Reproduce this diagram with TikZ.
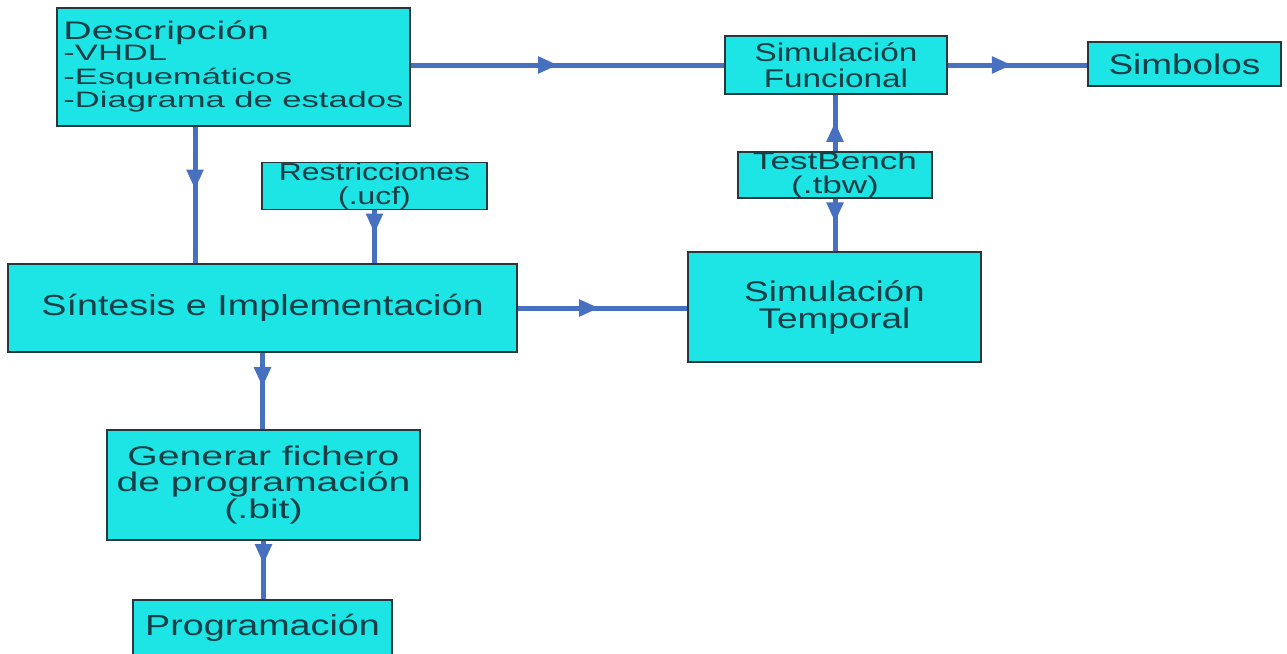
\documentclass[tikz,border=0pt]{standalone}
\usepackage{fontspec}
\setmainfont{Liberation Sans}[FakeStretch=1.3]
\newfontfamily\midfont{Liberation Sans}[FakeStretch=1.45]
\newfontfamily\listfont{Liberation Sans}[FakeStretch=1.55]
\usetikzlibrary{arrows.meta,decorations.markings}
\definecolor{boxfill}{RGB}{30,229,229}
\definecolor{boxline}{RGB}{40,55,60}
\definecolor{flow}{RGB}{72,112,192}
\definecolor{ink}{RGB}{22,62,70}
\tikzset{
  stage/.style={draw=boxline, line width=1.5pt, fill=boxfill, text=ink,
    inner sep=0pt, align=center, anchor=center},
  flowline/.style={draw=flow, line width=5pt},
  tipat/.style={postaction={decorate}, decoration={markings,
    mark=at position #1 with {\arrow[flow]{Triangle[length=20pt,width=16pt]}}}},
}
\newcommand{\fs}[2]{\fontsize{#1}{#2}\selectfont}
\begin{document}
\begin{tikzpicture}[x=1pt,y=-1pt]
\useasboundingbox[fill=white] (0,0) rectangle (1287,653);

% process stages
\node[stage, minimum width=353pt, minimum height=118pt, font=\listfont\fs{22.3}{23.3}]
  (desc) at (233.5,67) {\begin{tabular}{@{}l@{}}\raisebox{-3pt}{\fs{25.4}{23.3}Descripción}\\-VHDL\\-Esquemáticos\\-Diagrama de estados\end{tabular}};
\node[stage, minimum width=222pt, minimum height=58pt, font=\fs{25.6}{26}]
  (simf) at (836,65) {Simulación\\Funcional};
\node[stage, minimum width=193pt, minimum height=44pt, font=\fs{28.4}{28}]
  (simb) at (1184.5,64) {Simbolos};
\node[stage, minimum width=225pt, minimum height=46pt, font=\fs{24.5}{24}]
  (restr) at (374.5,186) {Restricciones\\(.ucf)};
\node[stage, minimum width=194pt, minimum height=44pt, font=\midfont\fs{24.2}{23.5}]
  (tb) at (835,175) {TestBench\\(.tbw)};
\node[stage, minimum width=509pt, minimum height=88pt, font=\fs{29}{29}]
  (synth) at (262.5,308) {Síntesis e Implementación};
\node[stage, minimum width=293pt, minimum height=110pt, font=\fs{28.4}{27}]
  (simt) at (834.5,307) {Simulación\\Temporal};
\node[stage, minimum width=313pt, minimum height=110pt, font=\midfont\fs{27}{26.5}]
  (gen) at (263.5,485) {Generar fichero\\de programación\\(.bit)};
\node[stage, minimum width=259pt, minimum height=56pt, font=\fs{29}{29}]
  (prog) at (262.5,628) {Programación};

% flow between stages
\draw[flowline, tipat=0.47] (desc.east |- simf.west) -- (simf.west);
\draw[flowline, tipat=0.46] (simf.east) -- (simf.east -| simb.west);
\draw[flowline, tipat=0.46] ([xshift=-38.5pt]desc.south) -- ([xshift=-38.5pt]desc.south |- synth.north);
\draw[flowline, tipat=0.44] (restr.south) -- (restr.south |- synth.north);
\draw[flowline, tipat=0.48] (synth.east) -- (synth.east -| simt.west);
\draw[flowline, tipat=0.52] (tb.north) -- (tb.north |- simf.south);
\draw[flowline, tipat=0.45] (tb.south) -- (tb.south |- simt.north);
\draw[flowline, tipat=0.45] (synth.south) -- (synth.south |- gen.north);
\draw[flowline, tipat=0.40] (gen.south) -- (gen.south |- prog.north);
\end{tikzpicture}
\end{document}
